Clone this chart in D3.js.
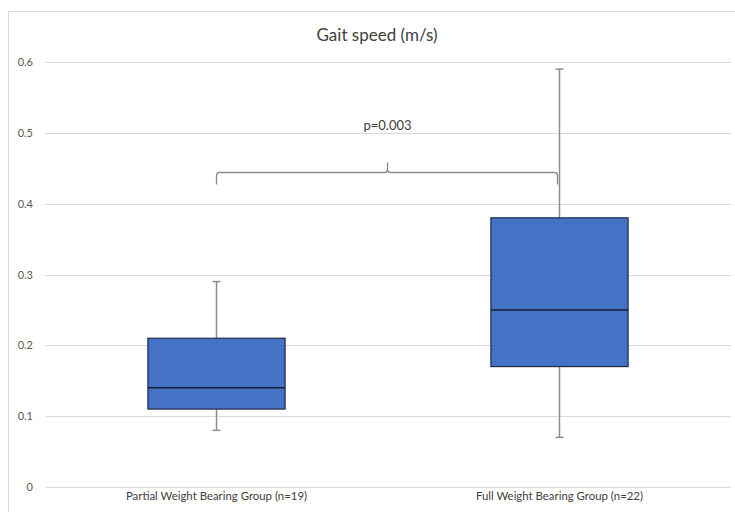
<!DOCTYPE html>
<html><head><meta charset="utf-8">
<script src="https://cdn.jsdelivr.net/npm/d3@7"></script>
<style>body{margin:0;background:#fff}svg{display:block}</style>
</head><body>
<script>
const categories = ["Partial Weight Bearing Group (n=19)", "Full Weight Bearing Group (n=22)"];
const whiskerLow = [0.08, 0.07];
const q1 = [0.11, 0.17];
const median = [0.14, 0.25];
const q3 = [0.21, 0.38];
const whiskerHigh = [0.29, 0.59];
const yTicks = [0, 0.1, 0.2, 0.3, 0.4, 0.5, 0.6];
const pLabel = "p=0.003";
const braceLevel = 0.444;
const title = "Gait speed (m/s)";

const W = 735, H = 512;
const svg = d3.select("body").append("svg").attr("width", W).attr("height", H);
const font = "Lato, 'Open Sans', sans-serif";

// chart border
svg.append("rect").attr("x", 8.5).attr("y", 11.5).attr("width", W + 20).attr("height", H + 20)
  .attr("fill", "none").attr("stroke", "#d9d9d9").attr("stroke-width", 1);

const x = d3.scaleBand().domain(categories).range([45, 731]).paddingInner(0).paddingOuter(0);
const y = d3.scaleLinear().domain([0, 0.6]).range([487, 62]);

// grid
svg.append("g").selectAll("line").data(yTicks).join("line")
  .attr("x1", 45).attr("x2", 731)
  .attr("y1", d => Math.round(y(d)) + 0.5).attr("y2", d => Math.round(y(d)) + 0.5)
  .attr("stroke", "#d9d9d9").attr("stroke-width", 1);

// y axis labels
const yAxis = d3.axisLeft(y).tickValues(yTicks).tickSize(0).tickPadding(0)
  .tickFormat(d => d === 0 ? "0" : d3.format(".1f")(d));
const ya = svg.append("g").attr("transform", "translate(33,0)").call(yAxis);
ya.select(".domain").remove();
ya.selectAll("text").attr("font-family", font).attr("font-size", 11).attr("fill", "#595959");

// x axis labels
const xAxis = d3.axisBottom(x).tickSize(0).tickPadding(0);
const xa = svg.append("g").attr("transform", "translate(0,492)").call(xAxis);
xa.select(".domain").remove();
xa.selectAll("text").attr("font-family", font).attr("font-size", 11.4).attr("fill", "#404040");

// title
svg.append("text").attr("x", 377).attr("y", 41).attr("text-anchor", "middle")
  .attr("font-family", font).attr("font-size", 17).attr("fill", "#404040").text(title);

const bw = x.bandwidth() * 0.4;
const g = svg.append("g");
categories.forEach((c, i) => {
  const cx = x(c) + x.bandwidth() / 2;
  const gray = "#8c8c8c";
  g.append("line").attr("x1", cx).attr("x2", cx).attr("y1", y(whiskerHigh[i])).attr("y2", y(q3[i]))
    .attr("stroke", gray).attr("stroke-width", 1.5);
  g.append("line").attr("x1", cx).attr("x2", cx).attr("y1", y(q1[i])).attr("y2", y(whiskerLow[i]))
    .attr("stroke", gray).attr("stroke-width", 1.5);
  [whiskerHigh[i], whiskerLow[i]].forEach(v => {
    g.append("line").attr("x1", cx - 4).attr("x2", cx + 4).attr("y1", y(v)).attr("y2", y(v))
      .attr("stroke", gray).attr("stroke-width", 1.5);
  });
  g.append("rect").attr("x", cx - bw / 2).attr("y", y(q3[i]))
    .attr("width", bw).attr("height", y(q1[i]) - y(q3[i]))
    .attr("fill", "#4472c4").attr("stroke", "#1f2b45").attr("stroke-width", 1.2);
  g.append("line").attr("x1", cx - bw / 2).attr("x2", cx + bw / 2)
    .attr("y1", y(median[i])).attr("y2", y(median[i]))
    .attr("stroke", "#14213d").attr("stroke-width", 1.5);
});

// brace
const bx1 = x(categories[0]) + x.bandwidth() / 2;
const bx2 = x(categories[1]) + x.bandwidth() / 2 - 2;
const by = y(braceLevel);
const mid = (bx1 + bx2) / 2 + 0.5;
const r = 3;
const path = `M${bx1},${by + 12} L${bx1},${by + r} Q${bx1},${by} ${bx1 + r},${by} L${mid - r},${by} Q${mid},${by} ${mid},${by - r} L${mid},${by - 10}
 M${mid},${by - r} Q${mid},${by} ${mid + r},${by} L${bx2 - r},${by} Q${bx2},${by} ${bx2},${by + r} L${bx2},${by + 12}`;
svg.append("path").attr("d", path).attr("fill", "none").attr("stroke", "#8c8c8c").attr("stroke-width", 1.3);

svg.append("text").attr("x", mid).attr("y", 130).attr("text-anchor", "middle")
  .attr("font-family", font).attr("font-size", 13).attr("fill", "#404040").text(pLabel);
</script>
</body></html>
